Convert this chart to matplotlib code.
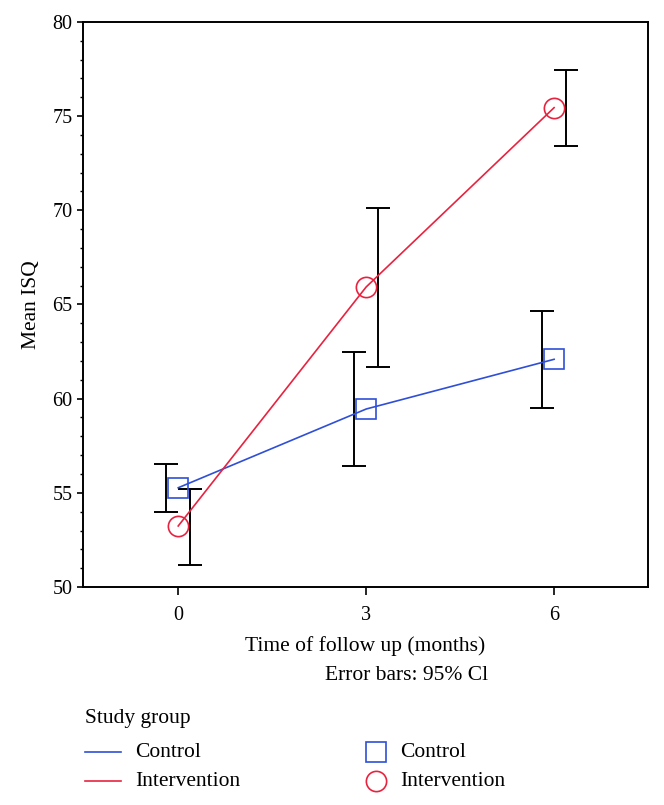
import matplotlib
matplotlib.use("Agg")
import matplotlib.pyplot as plt
from matplotlib.lines import Line2D
from matplotlib.ticker import MultipleLocator

plt.rcParams['font.family'] = ['Liberation Serif', 'DejaVu Serif']

months = [0, 3, 6]
control_mean = [55.27, 59.45, 62.09]
control_low = [54.0, 56.43, 59.5]
control_high = [56.53, 62.46, 64.66]
interv_mean = [53.24, 65.93, 75.45]
interv_low = [51.15, 61.67, 73.42]
interv_high = [55.2, 70.1, 77.46]

blue = "#2f4fd6"
red = "#e8233f"
offset = 0.19

fig = plt.figure(figsize=(6.64, 8.05), dpi=100)
ax = fig.add_axes([0.125, 0.2708, 0.851, 0.7019])

# error bars (offset)
for means, lo, hi, sgn in [(control_mean, control_low, control_high, -1),
                           (interv_mean, interv_low, interv_high, 1)]:
    xs = [m + sgn * offset for m in months]
    yc = [(a + b) / 2 for a, b in zip(lo, hi)]
    err = [[c - a for c, a in zip(yc, lo)], [b - c for b, c in zip(hi, yc)]]
    ax.errorbar(xs, yc, yerr=err, fmt='none', ecolor='black', elinewidth=1.4,
                capsize=8.3, capthick=1.4, zorder=2)

ms_sq = 14.2
ms_ci = 14.6
ax.plot(months, control_mean, color=blue, lw=1.2, zorder=3)
ax.plot(months, interv_mean, color=red, lw=1.2, zorder=3)
ax.plot(months, control_mean, ls='none', marker='s', ms=ms_sq, mfc='none',
        mec=blue, mew=1.2, zorder=4)
ax.plot(months, interv_mean, ls='none', marker='o', ms=ms_ci, mfc='none',
        mec=red, mew=1.2, zorder=4)

ax.set_xlim(-1.52, 7.5)
ax.set_ylim(50, 80)
ax.set_xticks(months)
ax.set_yticks([50, 55, 60, 65, 70, 75, 80])
ax.yaxis.set_minor_locator(MultipleLocator(1))
for s in ax.spines.values():
    s.set_linewidth(1.4)
ax.tick_params(axis='y', which='major', length=4.5, width=1.2, labelsize=14.5, pad=3)
ax.tick_params(axis='y', which='minor', length=2.3, width=1.0)
ax.tick_params(axis='x', which='major', length=6, width=1.2, labelsize=14.5, pad=8)

fs = 15.5
ax.set_xlabel("Time of follow up (months)", fontsize=fs, labelpad=8)
ax.set_ylabel("Mean ISQ", fontsize=fs, labelpad=8)

fig.text(488 / 664, 1 - 675 / 805, "Error bars: 95% Cl", fontsize=fs,
         ha='right', va='center')

# legend
fig.text(85 / 664, 1 - 718 / 805, "Study group", fontsize=fs, ha='left', va='center')
rows = [(752, "Control", blue, 's'), (781, "Intervention", red, 'o')]
for y, lab, col, mk in rows:
    yf = 1 - y / 805
    fig.add_artist(Line2D([85 / 664, 121 / 664], [yf, yf], color=col, lw=1.2,
                          transform=fig.transFigure))
    fig.text(135 / 664, yf, lab, fontsize=fs, ha='left', va='center')
    fig.add_artist(Line2D([376 / 664], [yf], marker=mk, ms=ms_sq if mk == 's' else ms_ci,
                          mfc='none', mec=col, mew=1.2, ls='none',
                          transform=fig.transFigure))
    fig.text(400 / 664, yf, lab, fontsize=fs, ha='left', va='center')

fig.savefig("out.png", dpi=100)
